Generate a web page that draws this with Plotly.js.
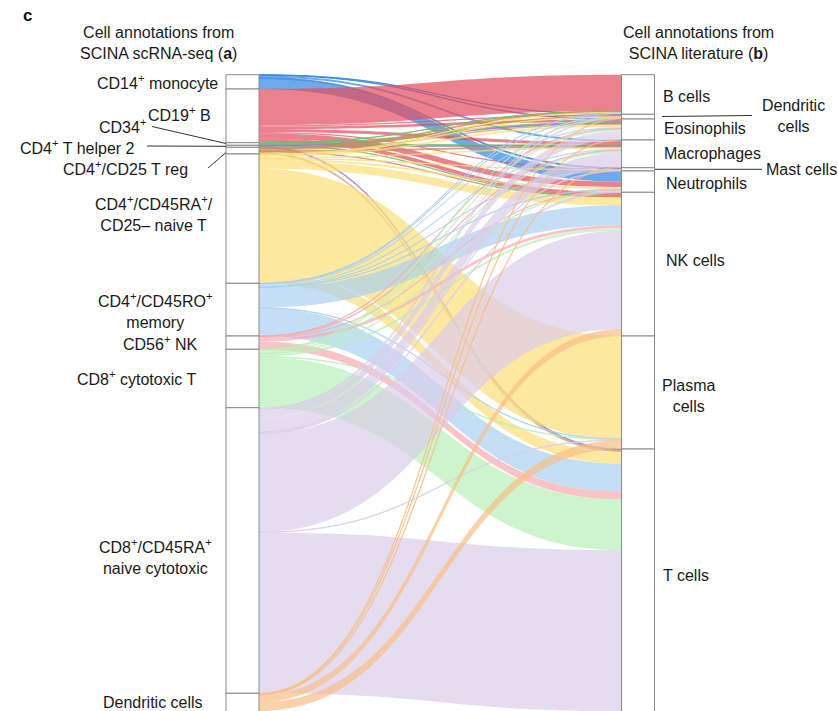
<!DOCTYPE html>
<html>
<head>
<meta charset="utf-8">
<script src="https://cdn.plot.ly/plotly-3.0.1.min.js"></script>
<style>
  html, body { margin: 0; padding: 0; background: #ffffff; overflow: hidden; width: 838px; height: 711px; }
  #chart { width: 838px; height: 725px; }
</style>
</head>
<body>
<div id="chart"></div>
<script>
// ---------- DATA ----------
const leftNodes = [
  "CD14+ monocyte", "CD19+ B", "CD34+", "CD4+ T helper 2", "CD4+/CD25 T reg",
  "CD4+/CD45RA+/CD25– naive T", "CD4+/CD45RO+ memory", "CD56+ NK",
  "CD8+ cytotoxic T", "CD8+/CD45RA+ naive cytotoxic", "Dendritic cells"
];
const rightNodes = [
  "B cells", "Dendritic cells", "Eosinophils", "Macrophages", "Mast cells",
  "Neutrophils", "NK cells", "Plasma cells", "T cells"
];

// flows from each left annotation to [B, DC, Eos, Mac, Mast, Neut, NK, Plasma, T]
const fromCD14Mono      = [0,    0.3, 0.5, 2,    1,   10.5, 0,    0,     0];
const fromCD19B         = [36.2, 1.4, 2.5, 3,    1.1, 5.5,  4,    0,     0];
const fromCD34          = [0.4,  0,   1,   0.8,  0,   0,    0.4,  0,     0];
const fromCD4Th2        = [0,    0,   0.5, 0.5,  0,   0,    0,    0,     1];
const fromCD4Treg       = [1,    0.7, 1.5, 1,    0,   0,    0.5,  0,     2];
const fromCD4NaiveT     = [0.5,  0.5, 2,   1.5,  0.3, 2,    8,    102.9, 11.6];
const fromCD4Memory     = [0.3,  0.3, 1.5, 1.5,  0.2, 0.5,  20,   0.4,   28];
const fromCD56NK        = [0,    0,   0.5, 0.5,  0,   1.5,  3,    0,     7.8];
const fromCD8Cytotoxic  = [0,    0.3, 2,   2,    0,   0.3,  2.5,  0.5,   50.8];
const fromCD8NaiveCyto  = [1.2,  0.6, 8.4, 14.1, 0.7, 1.0,  98.3, 0.5,   160.8];
const fromDendritic     = [0,    0.6, 0.6, 0.8,  0,   0,    7,    8.7,   14];

const flowRows = [fromCD14Mono, fromCD19B, fromCD34, fromCD4Th2, fromCD4Treg,
  fromCD4NaiveT, fromCD4Memory, fromCD56NK, fromCD8Cytotoxic, fromCD8NaiveCyto, fromDendritic];

const sourceColors = [
  "rgba(48,134,226,0.7)",  "rgba(226,76,91,0.7)",   "rgba(110,190,110,0.7)",
  "rgba(150,130,205,0.7)", "rgba(205,145,85,0.65)", "rgba(252,222,119,0.7)",
  "rgba(169,208,241,0.7)", "rgba(248,169,176,0.7)", "rgba(184,241,184,0.7)",
  "rgba(219,205,234,0.7)", "rgba(248,191,134,0.7)"
];

// display labels
const leftLabels = [
  "CD14<sup>+</sup> monocyte", "CD19<sup>+</sup> B", "CD34<sup>+</sup>",
  "CD4<sup>+</sup> T helper 2", "CD4<sup>+</sup>/CD25 T reg",
  "CD4<sup>+</sup>/CD45RA<sup>+</sup>/<br>CD25– naive T",
  "CD4<sup>+</sup>/CD45RO<sup>+</sup><br>memory", "CD56<sup>+</sup> NK",
  "CD8<sup>+</sup> cytotoxic T", "CD8<sup>+</sup>/CD45RA<sup>+</sup><br>naive cytotoxic",
  "Dendritic cells"
];
const rightLabels = [
  "B cells", "Dendritic<br>cells", "Eosinophils", "Macrophages", "Mast cells",
  "Neutrophils", "NK cells", "Plasma<br>cells", "T cells"
];
const leftTitle = "Cell annotations from<br>SCINA scRNA-seq (<b>a</b>)";
const rightTitle = "Cell annotations from<br>SCINA literature (<b>b</b>)";
const panelLetter = "c";

// ---------- BUILD ----------
const W = 838;
const H = 725;          // plot runs slightly past the 711px window, as the reference is cropped
const topPx = 74.7;
const nL = leftNodes.length;

const source = [], target = [], value = [], linkColor = [];
flowRows.forEach((row, i) => {
  row.forEach((v, j) => {
    if (v > 0) {
      source.push(i); target.push(nL + j); value.push(v); linkColor.push(sourceColors[i]);
    }
  });
});

const leftTotals = flowRows.map(r => r.reduce((a, b) => a + b, 0));
const rightTotals = rightNodes.map((_, j) => flowRows.reduce((a, r) => a + r[j], 0));
const total = leftTotals.reduce((a, b) => a + b, 0);

function centers(vals) {
  let cum = 0; const out = [];
  vals.forEach(v => { out.push((cum + v / 2) / total); cum += v; });
  return out;
}
const nodeY = centers(leftTotals).concat(centers(rightTotals));
const nodeX = leftNodes.map(() => 242.5 / W).concat(rightNodes.map(() => 638 / W));
const allNames = leftNodes.concat(rightNodes);

const trace = {
  type: "sankey",
  arrangement: "fixed",
  domain: { x: [0, 1], y: [0, (H - topPx) / H] },
  node: {
    pad: 0,
    thickness: 33,
    x: nodeX,
    y: nodeY,
    label: allNames.map(() => ""),
    customdata: allNames,
    hovertemplate: "%{customdata}<extra></extra>",
    color: "rgba(255,255,255,1)",
    line: { color: "#8a8a8a", width: 1 }
  },
  link: {
    source: source,
    target: target,
    value: value,
    color: linkColor,
    hoverinfo: "none"
  }
};

// ---------- TEXT & LEADERS ----------
const px = x => x / W;
const py = y => 1 - y / H;
const font = { family: "Liberation Sans, Arial, Helvetica, sans-serif", size: 16, color: "#1a1a1a" };

function ann(text, x, y, xanchor, align) {
  return { text: text, x: px(x), y: py(y), xref: "paper", yref: "paper",
    xanchor: xanchor, yanchor: "middle", align: align,
    showarrow: false, font: font };
}

const leftPos = [
  [220, 82, "right"], [213, 114, "right"], [148, 126, "right"], [137, 147, "right"],
  [190, 168, "right"], [154, 213, "center"], [155, 310, "center"], [160, 342.7, "center"],
  [136, 378, "center"], [155, 556, "center"], [153, 702.7, "center"]
];
const rightPos = [
  [661, 96.7, "left"], [793, 116, "center"], [662, 128.3, "left"], [662, 153, "left"],
  [764, 169.3, "left"], [664, 183.3, "left"], [664, 260.7, "left"], [688, 395.5, "center"],
  [661, 575, "left"]
];

const annotations = [];
leftLabels.forEach((t, i) => {
  const p = leftPos[i];
  annotations.push(ann(t, p[0], p[1], p[2], p[2] === "center" ? "center" : "right"));
});
rightLabels.forEach((t, i) => {
  const p = rightPos[i];
  annotations.push(ann(t, p[0], p[1], p[2], p[2] === "center" ? "center" : "left"));
});
annotations.push(ann(leftTitle, 158, 42.5, "center", "center"));
annotations.push(ann(rightTitle, 698, 42.5, "center", "center"));
annotations.push({ text: "<b>" + panelLetter + "</b>", x: px(21), y: py(15), xref: "paper", yref: "paper",
  xanchor: "left", yanchor: "middle", showarrow: false,
  font: { family: "Liberation Sans, Arial, sans-serif", size: 17, color: "#111" } });

function seg(x0, y0, x1, y1) {
  return { type: "line", xref: "paper", yref: "paper", x0: px(x0), y0: py(y0), x1: px(x1), y1: py(y1),
    line: { color: "#333", width: 1 } };
}
const shapes = [
  seg(152, 126.5, 226, 143.5),
  seg(147, 146, 226, 146.3),
  seg(208, 168, 226, 152.5),
  seg(662, 116.5, 752, 115.5),
  seg(655, 169.3, 762, 169.3)
];

const layout = {
  width: W, height: H,
  margin: { l: 0, r: 0, t: 0, b: 0 },
  paper_bgcolor: "#ffffff",
  plot_bgcolor: "#ffffff",
  showlegend: false,
  annotations: annotations,
  shapes: shapes,
  font: font
};

const gdEl = document.getElementById("chart");
function dropEmptyTexts() {
  gdEl.querySelectorAll(".node-label").forEach(el => el.remove());
  gdEl.querySelectorAll("text").forEach(el => {
    if (!el.textContent || !el.textContent.trim()) el.remove();
  });
}
const p = Plotly.newPlot(gdEl, [trace], layout, { displayModeBar: false, staticPlot: true });
dropEmptyTexts();
p.then(gd => { dropEmptyTexts(); gd.on("plotly_afterplot", dropEmptyTexts); });
</script>
</body>
</html>
